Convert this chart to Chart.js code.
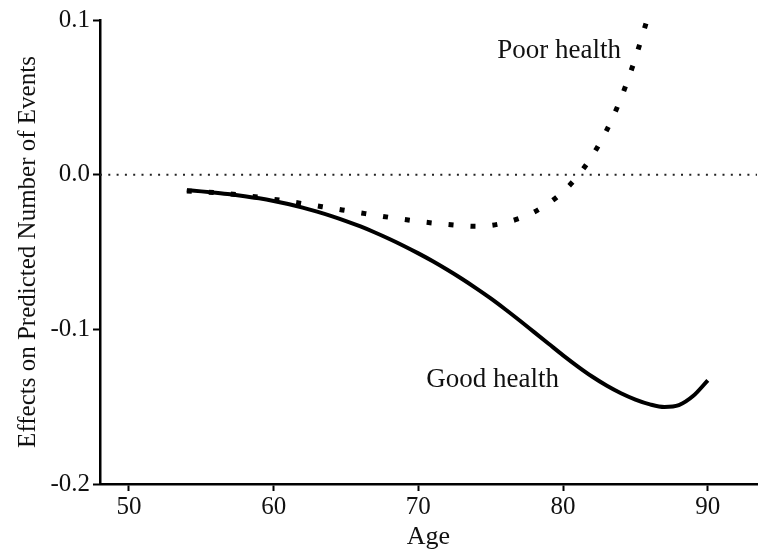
<!DOCTYPE html>
<html>
<head>
<meta charset="utf-8">
<script src="https://cdn.jsdelivr.net/npm/chart.js@4/dist/chart.umd.min.js"></script>
<style>
  html, body { margin: 0; padding: 0; background: #fff; }
  #wrap { width: 758px; height: 552px; position: relative; }
</style>
</head>
<body>
<div id="wrap"><canvas id="c"></canvas></div>
<script>
// ---- data ----
const goodAges = [54,55,56,57,58,59,60,61,62,63,64,65,66,67,68,69,70,71,72,73,74,75,76,77,78,79,80,81,82,83,84,85,86,87,88,89,90];
const goodHealth = [-0.0100,-0.0108,-0.0117,-0.0127,-0.0139,-0.0153,-0.0170,-0.0190,-0.0213,-0.0239,-0.0268,-0.0300,-0.0335,-0.0374,-0.0416,-0.0461,-0.0509,-0.0560,-0.0615,-0.0673,-0.0735,-0.0800,-0.0870,-0.0943,-0.1018,-0.1093,-0.1168,-0.1239,-0.1305,-0.1363,-0.1413,-0.1454,-0.1485,-0.1502,-0.1490,-0.1430,-0.1330];

const poorAges = [54,56,58,60,62,64,66,68,70,72,73,74,75,76,77,78,79,80,81,82,83,84,85,85.8];
const poorHealth = [-0.0105,-0.0117,-0.0135,-0.0159,-0.0187,-0.0217,-0.0247,-0.0276,-0.0302,-0.0322,-0.0330,-0.0334,-0.0328,-0.0310,-0.0282,-0.0242,-0.0185,-0.0110,-0.0010,0.0120,0.0285,0.0495,0.0755,0.1000];

const xRange = [48, 93.4];
const yRange = [-0.2, 0.1];
const xTicks = [50, 60, 70, 80, 90];
const yTicks = [0.1, 0.0, -0.1, -0.2];
const referenceValue = 0;

const seriesLabels = ['Good health', 'Poor health'];
const labelAnchors = [[70.55, -0.137], [75.45, 0.0757]]; // data coords of text labels

const xTitle = 'Age';
const yTitle = 'Effects on Predicted Number of Events';

// ---- build chart ----
const FONT = '"Liberation Serif", "Times New Roman", serif';
const toXY = (xs, ys) => xs.map((x, i) => ({ x: x, y: ys[i] }));

const textLabels = {
  id: 'textLabels',
  afterDatasetsDraw(chart) {
    const { ctx, scales } = chart;
    ctx.save();
    ctx.font = '27px ' + FONT;
    ctx.fillStyle = '#111';
    ctx.textAlign = 'left';
    ctx.textBaseline = 'alphabetic';
    seriesLabels.forEach((t, i) => {
      ctx.fillText(t, scales.x.getPixelForValue(labelAnchors[i][0]), scales.y.getPixelForValue(labelAnchors[i][1]));
    });
    ctx.restore();
  }
};

new Chart(document.getElementById('c'), {
  type: 'line',
  data: {
    datasets: [
      {
        label: 'zero',
        data: toXY(xRange, [referenceValue, referenceValue]),
        borderColor: '#222',
        borderWidth: 2,
        borderDash: [2, 6.3],
        borderCapStyle: 'butt',
        pointRadius: 0,
        tension: 0
      },
      {
        label: seriesLabels[0],
        data: toXY(goodAges, goodHealth),
        borderColor: '#000',
        borderWidth: 4,
        pointRadius: 0,
        cubicInterpolationMode: 'monotone',
        borderCapStyle: 'butt'
      },
      {
        label: seriesLabels[1],
        data: toXY(poorAges, poorHealth),
        borderColor: '#000',
        borderWidth: 5,
        borderDash: [5, 17],
        borderCapStyle: 'butt',
        pointRadius: 0,
        cubicInterpolationMode: 'monotone'
      }
    ]
  },
  options: {
    responsive: true,
    maintainAspectRatio: false,
    devicePixelRatio: 1,
    animation: false,
    layout: { padding: { top: 20, right: 1, bottom: 0, left: 0 } },
    plugins: { legend: { display: false }, tooltip: { enabled: false } },
    scales: {
      x: {
        type: 'linear',
        min: xRange[0],
        max: xRange[1],
        afterFit(s) { s.height = 68; },
        afterBuildTicks(s) { s.ticks = xTicks.map(v => ({ value: v })); },
        ticks: {
          includeBounds: false,
          color: '#111',
          font: { family: FONT, size: 25 },
          padding: 1,
          maxRotation: 0,
          autoSkip: false
        },
        grid: { drawOnChartArea: false, drawTicks: true, tickLength: 7, tickWidth: 2, tickColor: '#000' },
        border: { display: true, color: '#000', width: 2.5 },
        title: { display: true, text: xTitle, color: '#111', font: { family: FONT, size: 26 }, padding: { top: 0, bottom: -1 } }
      },
      y: {
        type: 'linear',
        min: yRange[0],
        max: yRange[1],
        afterFit(s) { s.width = 100; },
        afterBuildTicks(s) { s.ticks = yTicks.map(v => ({ value: v })); },
        ticks: {
          includeBounds: false,
          color: '#111',
          font: { family: FONT, size: 25 },
          padding: 3,
          callback: v => Number(v).toFixed(1)
        },
        grid: { drawOnChartArea: false, drawTicks: true, tickLength: 7, tickWidth: 2, tickColor: '#000' },
        border: { display: true, color: '#000', width: 2.5 },
        title: { display: true, text: yTitle, color: '#111', font: { family: FONT, size: 25 }, padding: { top: 13, bottom: 0 } }
      }
    }
  },
  plugins: [textLabels]
});
</script>
</body>
</html>
